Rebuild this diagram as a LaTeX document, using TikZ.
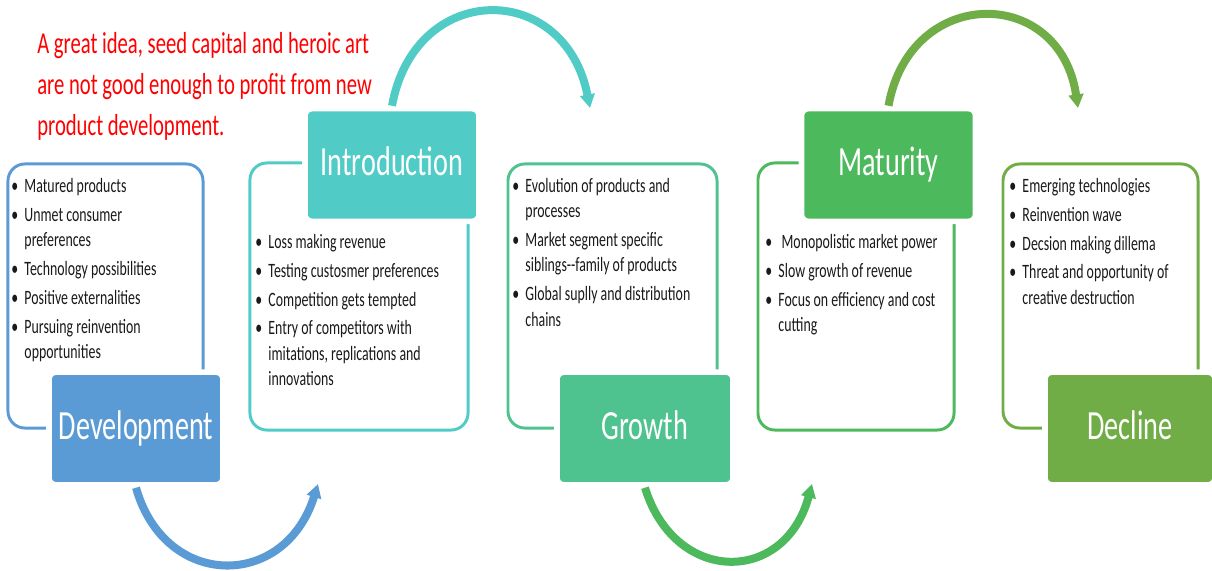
\documentclass[tikz,border=0pt]{standalone}
\usepackage{fontspec}
\setmainfont[FakeStretch=0.68]{Carlito}
\usepackage{xcolor}
\usepackage{tikz}
\usetikzlibrary{arrows.meta, positioning}
\definecolor{devblue}{RGB}{91,155,213}
\definecolor{introteal}{RGB}{80,203,198}
\definecolor{growgreen}{RGB}{78,195,143}
\definecolor{matgreen}{RGB}{76,185,92}
\definecolor{declgreen}{RGB}{112,173,71}
\definecolor{bodytext}{RGB}{25,25,25}
\newcommand{\bitem}[1]{\makebox[0.33cm][l]{\textbullet}#1}
\newcommand{\cont}{\hspace*{0.33cm}}
\newcommand{\itemgap}{2.5pt}
\tikzset{
  panel/.style={rectangle, draw=#1, line width=2.1pt, rounded corners=12pt,
    inner sep=0pt},
  stagelbl/.style={rectangle, fill=#1, draw=white, line width=4pt,
    rounded corners=5pt, minimum width=4.35cm, minimum height=2.82cm,
    text=white, font=\fontsize{29.5}{32}\selectfont, inner sep=0pt,
    text height=21pt, text depth=6pt},
  items/.style={anchor=north west, align=left, inner sep=0pt,
    text=bodytext, font=\fontsize{14.5}{18}\selectfont},
  flow/.style={draw=#1, line width=5.7pt,
    -{Triangle[length=0.34cm, width=0.36cm]}}
}

\begin{document}
\begin{tikzpicture}[x=0.025cm, y=-0.025cm]
  \useasboundingbox (0,0) rectangle (1212,571);

  % Outline panels
  \node[panel=devblue, minimum width=4.875cm, minimum height=6.6cm] (devbox) at (105.5,296) {};
  \node[panel=introteal, minimum width=5.45cm, minimum height=6.675cm] (introbox) at (359,296.5) {};
  \node[panel=growgreen, minimum width=5.225cm, minimum height=6.6cm] (growbox) at (612.5,296) {};
  \node[panel=matgreen, minimum width=4.9cm, minimum height=6.675cm] (matbox) at (856,296.5) {};
  \node[panel=declgreen, minimum width=4.875cm, minimum height=6.6cm] (declbox) at (1100.5,296) {};

  % Stage labels
  \node[stagelbl=devblue] (devlbl) at (136,428.5) {Development};
  \node[stagelbl=introteal] (introlbl) at (392,165) {Introduction};
  \node[stagelbl=growgreen, minimum width=4.4cm] (growlbl) at (645,428.5) {Growth};
  \node[stagelbl=matgreen] (matlbl) at (888.5,165) {Maturity};
  \node[stagelbl=declgreen, minimum width=4.25cm] (decllbl) at (1130,428.5) {Decline};

  % Arrow ends
  \coordinate (devend) at (318,484);
  \coordinate (introend) at (590,108);
  \coordinate (growend) at (812,484);
  \coordinate (matend) at (1078,108);

  % Flow arrows between stages
  \draw[flow=devblue] (devlbl.south) .. controls (165,590) and (285,590) .. (devend);
  \draw[flow=introteal] (introlbl.north) .. controls (415,-20) and (565,-20) .. (introend);
  \draw[flow=matgreen] (growlbl.south) .. controls (675,585) and (785,585) .. (growend);
  \draw[flow=declgreen] (matlbl.north) .. controls (910,-15) and (1060,-15) .. (matend);

  % Note
  \node[anchor=north west, align=left, inner sep=0pt, text=red,
    font=\fontsize{21.6}{29.2}\selectfont] (note) at (37,32)
    {A great idea, seed capital and heroic art\\
     are not good enough to profit from new\\
     product development.};

  % Panel contents
  \node[items] (devtext) at (11,178) {%
    \bitem{Matured products}\\[\itemgap]
    \bitem{Unmet consumer}\\
    \cont preferences\\[\itemgap]
    \bitem{Technology possibilities}\\[\itemgap]
    \bitem{Positive externalities}\\[\itemgap]
    \bitem{Pursuing reinvention}\\
    \cont opportunities};
  \node[items] (introtext) at (255,234) {%
    \bitem{Loss making revenue}\\[\itemgap]
    \bitem{Testing custosmer preferences}\\[\itemgap]
    \bitem{Competition gets tempted}\\[\itemgap]
    \bitem{Entry of competitors with}\\
    \cont imitations, replications and\\
    \cont innovations};
  \node[items] (growtext) at (512,178) {%
    \bitem{Evolution of products and}\\
    \cont processes\\[\itemgap]
    \bitem{Market segment specific}\\
    \cont siblings-{}-family of products\\[\itemgap]
    \bitem{Global suplly and distribution}\\
    \cont chains};
  \node[items] (mattext) at (765,234) {%
    \bitem{\ Monopolistic market power}\\[\itemgap]
    \bitem{Slow growth of revenue}\\[\itemgap]
    \bitem{Focus on efficiency and cost}\\
    \cont cutting};
  \node[items] (decltext) at (1009,178) {%
    \bitem{Emerging technologies}\\[\itemgap]
    \bitem{Reinvention wave}\\[\itemgap]
    \bitem{Decsion making dillema}\\[\itemgap]
    \bitem{Threat and opportunity of}\\
    \cont creative destruction};
\end{tikzpicture}
\end{document}
